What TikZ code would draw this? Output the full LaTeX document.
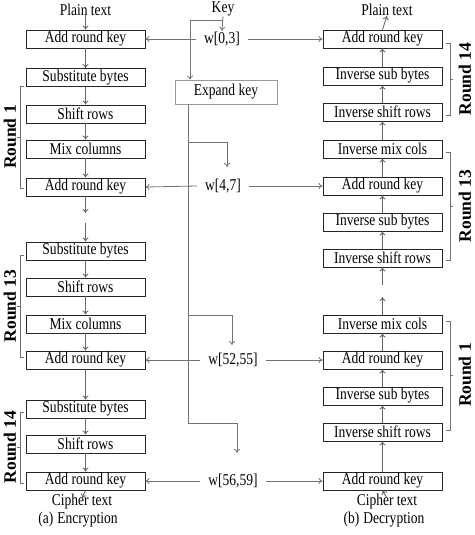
\documentclass[tikz,border=0pt]{standalone}
\usepackage{fontspec}
\setmainfont{Liberation Serif}[FakeStretch=0.82]
\newfontfamily\roundfont{Liberation Serif}
\usetikzlibrary{arrows.meta}
\begin{document}
\begin{tikzpicture}[x=1pt,y=-1pt,
  font=\fontsize{16.5}{18}\selectfont,
  blk/.style={draw=black!85, line width=0.9pt, minimum width=119pt, minimum height=18pt, inner sep=0pt},
  ekey/.style={draw=black!40, line width=0.8pt, minimum width=102pt, minimum height=24pt, inner sep=0pt},
  flow/.style={draw=black!60, line width=0.9pt, -{To[length=4pt,width=6pt]}},
  keyln/.style={draw=black!55, line width=0.8pt},
  keyarr/.style={keyln, -{To[length=4pt,width=6pt]}},
  wlab/.style={inner xsep=8pt, inner ysep=1pt},
  plab/.style={inner sep=0pt},
  rlab/.style={font=\roundfont\bfseries\fontsize{17.5}{20}\selectfont, rotate=90, inner sep=0pt},
  brk/.style={draw=black!55, line width=0.7pt},
]
\useasboundingbox (0,0) rectangle (474,535);

% ---------- Encryption column ----------
\node[plab] (ptl) at (85.5,10) {Plain text};
\node[blk] (ark0) at (85.5,39)  {Add round key};
\node[blk] (sb1)  at (85.5,77.5){Substitute bytes};
\node[blk] (sr1)  at (85.5,114) {Shift rows};
\node[blk] (mc1)  at (85.5,149) {Mix columns};
\node[blk] (ark1) at (85.5,187) {Add round key};
\node[blk] (sb13) at (85.5,251) {Substitute bytes};
\node[blk] (sr13) at (85.5,287) {Shift rows};
\node[blk] (mc13) at (85.5,324) {Mix columns};
\node[blk] (ark13) at (85.5,360) {Add round key};
\node[blk] (sb14) at (85.5,409) {Substitute bytes};
\node[blk] (sr14) at (85.5,444) {Shift rows};
\node[blk] (ark14) at (85.5,481) {Add round key};
\node[plab] (ctl) at (82,502) {Cipher text};
\node[plab] (capa) at (78,519.5) {(a)\hspace{4pt}Encryption};

\coordinate (gl1) at (85.5,213);
\coordinate (gl2) at (85.5,223);

\draw[flow] ([yshift=-5pt]ptl.center) -- (ark0.north);
\draw[flow] (ark0) -- (sb1);
\draw[flow] (sb1) -- (sr1);
\draw[flow] (sr1) -- (mc1);
\draw[flow] (mc1) -- (ark1);
\draw[flow] (ark1) -- (gl1);
\draw[flow] (gl2) -- (sb13);
\draw[flow] (sb13) -- (sr13);
\draw[flow] (sr13) -- (mc13);
\draw[flow] (mc13) -- (ark13);
\draw[flow] (ark13) -- (sb14);
\draw[flow] (sb14) -- (sr14);
\draw[flow] (sr14) -- (ark14);
\draw[flow] (ark14.south) -- ([yshift=4pt]ctl.center);

% ---------- Decryption column ----------
\node[plab] (ptr) at (387,10) {Plain text};
\node[blk] (dark0) at (382.5,39)  {Add round key};
\node[blk] (disb1) at (382.5,76)  {Inverse sub bytes};
\node[blk] (disr1) at (382.5,112) {Inverse shift rows};
\node[blk] (dimc1) at (382.5,149) {Inverse mix cols};
\node[blk] (dark1) at (382.5,186) {Add round key};
\node[blk] (disb2) at (382.5,222) {Inverse sub bytes};
\node[blk] (disr2) at (382.5,258) {Inverse shift rows};
\node[blk] (dimc2) at (382.5,324) {Inverse mix cols};
\node[blk] (dark2) at (382.5,360) {Add round key};
\node[blk] (disb3) at (382.5,396) {Inverse sub bytes};
\node[blk] (disr3) at (382.5,432) {Inverse shift rows};
\node[blk] (dark3) at (382.5,481) {Add round key};
\node[plab] (ctr) at (387,502) {Cipher text};
\node[plab] (capb) at (384,519.5) {(b)\hspace{4pt}Decryption};

\coordinate (gr1) at (382.5,285);
\coordinate (gr2) at (382.5,297);

\draw[flow] (dark0.north) -- ([yshift=-6pt]ptr.center);
\draw[flow] (disb1) -- (dark0);
\draw[flow] (disr1) -- (disb1);
\draw[flow] (dimc1) -- (disr1);
\draw[flow] (dark1) -- (dimc1);
\draw[flow] (disb2) -- (dark1);
\draw[flow] (disr2) -- (disb2);
\draw[flow] (gr1) -- (disr2);
\draw[flow] (dimc2) -- (gr2);
\draw[flow] (dark2) -- (dimc2);
\draw[flow] (disb3) -- (dark2);
\draw[flow] (disr3) -- (disb3);
\draw[flow] (dark3) -- (disr3);
\draw[flow] ([yshift=4pt]ctr.center) -- (dark3.south);

% ---------- Key expansion ----------
\node[plab] (key) at (223,9) {Key};
\node[wlab] (w0)  at (222,39)  {w[0,3]};
\node[ekey] (ek)  at (226,92)  {Expand key};
\node[wlab] (w4)  at (223,186) {w[4,7]};
\node[wlab] (w52) at (233,360) {w[52,55]};
\node[wlab] (w56) at (233,481) {w[56,59]};

\coordinate (kA) at (190,20);
\coordinate (kB) at (223,20);
\coordinate (e0) at (188,104);
\coordinate (b1) at (188,142);
\coordinate (b1r) at (227,142);
\coordinate (t1) at (227,167);
\coordinate (b2) at (188,315);
\coordinate (b2r) at (232,315);
\coordinate (t2) at (232,345);
\coordinate (b3) at (188,423);
\coordinate (b3r) at (237,423);
\coordinate (t3) at (237,453);

\draw[keyarr] (key.south) -- (w0.north);
\draw[keyln] (kB) -- (kA);
\draw[keyarr] (kA) -- (kA |- ek.north);
\draw[keyln] (e0) -- (b3);
\draw[keyarr] (b1) -- (b1r) -- (t1);
\draw[keyarr] (b2) -- (b2r) -- (t2);
\draw[keyarr] (b3) -- (b3r) -- (t3);

\draw[keyarr] (w0.west) -- (ark0.east);
\draw[keyarr] (w0.east) -- (dark0.west);
\draw[keyarr] (w4.west) -- (ark1.east);
\draw[keyarr] (w4.east) -- (dark1.west);
\draw[keyarr] (w52.west) -- (ark13.east);
\draw[keyarr] (w52.east) -- (dark2.west);
\draw[keyarr] (w56.west) -- (ark14.east);
\draw[keyarr] (w56.east) -- (dark3.west);

% ---------- Round brackets ----------
\draw[brk] (24,86) -- (20,86) -- (20,188) -- (24,188) (20,137) -- (17,137);
\draw[brk] (24,255) -- (20,255) -- (20,357) -- (24,357) (20,306) -- (17,306);
\draw[brk] (24,412) -- (20,412) -- (20,483) -- (24,483) (20,447) -- (17,447);
\draw[brk] (446,43) -- (450,43) -- (450,115) -- (446,115) (450,79) -- (453,79);
\draw[brk] (446,152) -- (450,152) -- (450,260) -- (446,260) (450,206) -- (453,206);
\draw[brk] (446,321) -- (450,321) -- (450,430) -- (446,430) (450,375) -- (453,375);

\node[rlab] (r1l)  at (10,137) {Round 1};
\node[rlab] (r13l) at (10,306) {Round 13};
\node[rlab] (r14l) at (10,447) {Round 14};
\node[rlab] (r14r) at (465,79)  {Round 14};
\node[rlab] (r13r) at (465,206) {Round 13};
\node[rlab] (r1r)  at (465,375) {Round 1};
\end{tikzpicture}
\end{document}
